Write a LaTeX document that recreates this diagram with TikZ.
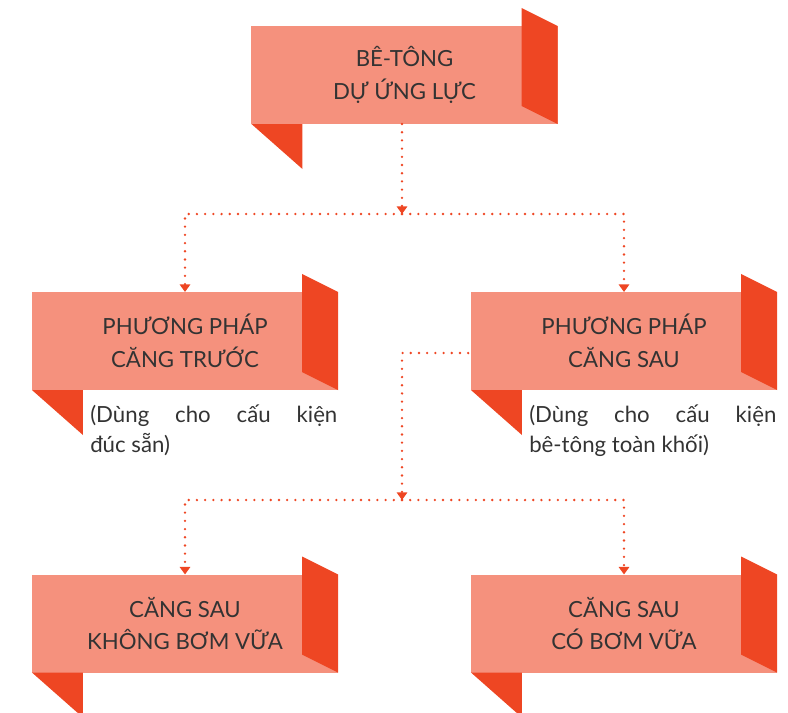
\documentclass[tikz,border=0pt]{standalone}
\usepackage{fontspec}
\setmainfont{Lato}
\usetikzlibrary{arrows.meta}
\definecolor{salmon}{HTML}{F5917D}
\definecolor{ribbonred}{HTML}{EE4623}
\definecolor{textgray}{HTML}{333333}

\tikzset{
  band/.style={fill=salmon, text=textgray, align=center, inner sep=0, outer sep=0,
    minimum width=7.65cm, minimum height=2.45cm, font=\fontsize{15.8}{23.4}\selectfont},
  note/.style={text=textgray, text width=6.175cm, align=justify, inner sep=0,
    anchor=base west, font=\fontsize{15.8}{22}\selectfont},
  link/.style={draw=ribbonred, line width=0.065cm, line cap=round,
    dash pattern=on 0pt off 0.205cm, -{Triangle[width=0.26cm,length=0.19cm]}}
}
\newcommand{\ribbon}[1]{%
  \fill[ribbonred] ([shift={(-36,-18)}]#1.north east) -- (#1.north east)
    -- (#1.south east) -- ([shift={(-36,-18)}]#1.south east) -- cycle;
  \fill[ribbonred] (#1.south west) -- ++(51,0) -- ++(0,45) -- cycle;}

\begin{document}
\begin{tikzpicture}[x=0.025cm,y=-0.025cm]
\useasboundingbox (0,0) rectangle (788,712);
\clip (0,0) rectangle (788,712);

\node[band] (betong) at (404.5,75) {BÊ-TÔNG\\DỰ ỨNG LỰC};
\node[band] (truoc) at (185,341) {PHƯƠNG PHÁP\\CĂNG TRƯỚC};
\node[band] (sau) at (624,341) {PHƯƠNG PHÁP\\CĂNG SAU};
\node[band] (khongbom) at (185,623.5) {CĂNG SAU\\KHÔNG BƠM VỮA};
\node[band] (cobom) at (624,623.5) {CĂNG SAU\\CÓ BƠM VỮA};
\ribbon{betong} \ribbon{truoc} \ribbon{sau} \ribbon{khongbom} \ribbon{cobom}

\node[note] (truocnote) at (90,422) {(Dùng cho cấu kiện\linebreak đúc sẵn)};
\node[note] (saunote) at (529,422) {(Dùng cho cấu kiện\linebreak bê-tông toàn khối)};

\coordinate (j1) at (402,214);
\coordinate (j2) at (402,500);
\coordinate (sauleft) at (471,353);

\draw[link] (betong.south -| j1) -- (j1);
\draw[link] (j1) -| (truoc.north);
\draw[link] (j1) -| (sau.north);
\draw[link, shorten <=2pt] (sauleft) -| (j2);
\draw[link] (j2) -| (khongbom.north);
\draw[link] (j2) -| (cobom.north);
\end{tikzpicture}
\end{document}
